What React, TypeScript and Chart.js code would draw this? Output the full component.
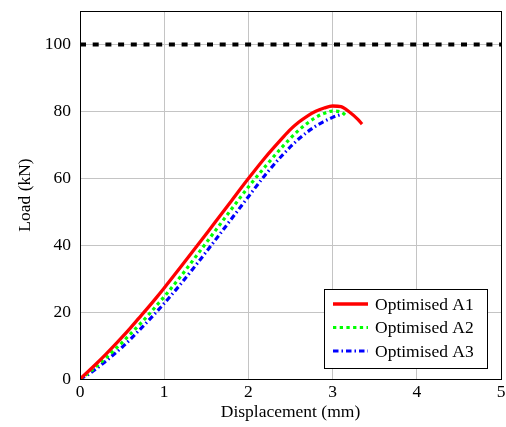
import React, { useEffect, useRef } from "react";
import { Chart, registerables } from "chart.js";

Chart.register(...registerables);

const FONT = "'Liberation Serif', 'Times New Roman', serif";

const seriesLabels = ["Optimised A1", "Optimised A2", "Optimised A3"];

const a1X = [0, 0.1, 0.2, 0.3, 0.4, 0.5, 0.6, 0.7, 0.8, 0.9, 1.0, 1.2, 1.4, 1.6, 1.8, 2.0, 2.2, 2.4, 2.5, 2.6, 2.7, 2.8, 2.9, 3.0, 3.1, 3.2, 3.3, 3.35];
const a1Y = [0, 2.3, 4.7, 7.2, 9.8, 12.5, 15.3, 18.2, 21.1, 24.1, 27.2, 33.6, 40.1, 46.7, 53.3, 59.9, 66.2, 71.9, 74.6, 76.8, 78.6, 80.0, 81.0, 81.6, 81.4, 79.8, 77.6, 76.2];

const a2X = [0, 0.1, 0.2, 0.3, 0.4, 0.5, 0.6, 0.7, 0.8, 0.9, 1.0, 1.2, 1.4, 1.6, 1.8, 2.0, 2.2, 2.4, 2.6, 2.8, 2.9, 3.0, 3.1, 3.17];
const a2Y = [0, 1.8, 3.9, 6.1, 8.5, 10.9, 13.5, 16.1, 18.8, 21.7, 24.6, 30.8, 37.4, 44.1, 50.8, 57.4, 63.5, 69.3, 74.4, 78.2, 79.4, 80.1, 79.8, 78.5];

const a3X = [0, 0.1, 0.2, 0.3, 0.4, 0.5, 0.6, 0.7, 0.8, 0.9, 1.0, 1.2, 1.4, 1.6, 1.8, 2.0, 2.2, 2.4, 2.6, 2.8, 2.9, 3.0, 3.1];
const a3Y = [0, 1.4, 3.2, 5.2, 7.3, 9.5, 11.9, 14.5, 17.1, 19.8, 22.6, 28.5, 34.8, 41.3, 47.9, 54.5, 61.0, 66.8, 71.8, 75.6, 77.0, 78.2, 79.1];

const limitX = [0, 5];
const limitY = [100, 100];

const xTicks = [0, 1, 2, 3, 4, 5];
const yTicks = [0, 20, 40, 60, 80, 100];

const colors = ["#ff0000", "#00ff00", "#0000ff"];
const dashes = [[], [3.3, 3.4], [5.5, 3, 1.5, 3]];
const widths = [3.3, 3.2, 3.2];

const zip = (xs: number[], ys: number[]) => xs.map((x, i) => ({ x, y: ys[i] }));

const boxAndLegend = {
  id: "boxAndLegend",
  afterDatasetsDraw(chart: any) {
    const { ctx, chartArea } = chart;
    ctx.save();
    ctx.strokeStyle = "#000";
    ctx.lineWidth = 1;
    ctx.setLineDash([]);
    ctx.strokeRect(
      Math.round(chartArea.left) + 0.5,
      Math.round(chartArea.top) + 0.5,
      Math.round(chartArea.right - chartArea.left),
      Math.round(chartArea.bottom - chartArea.top)
    );
    const bx = 324.5, by = 289.5, bw = 163, bh = 79;
    ctx.fillStyle = "#fff";
    ctx.fillRect(bx, by, bw, bh);
    ctx.strokeRect(bx, by, bw, bh);
    const rows = [304, 327.5, 351];
    ctx.font = `17.5px ${FONT}`;
    ctx.textBaseline = "middle";
    ctx.textAlign = "left";
    seriesLabels.forEach((lab, i) => {
      ctx.beginPath();
      ctx.strokeStyle = colors[i];
      ctx.lineWidth = widths[i];
      ctx.setLineDash(dashes[i]);
      ctx.moveTo(333, rows[i]);
      ctx.lineTo(368, rows[i]);
      ctx.stroke();
      ctx.setLineDash([]);
      ctx.fillStyle = "#000";
      ctx.fillText(lab, 375, rows[i] + 1);
    });
    ctx.restore();
  },
};

export default function App() {
  const ref = useRef<HTMLCanvasElement | null>(null);
  useEffect(() => {
    if (!ref.current) return;
    const chart = new Chart(ref.current, {
      type: "line",
      data: {
        datasets: [
          {
            label: "limit",
            data: zip(limitX, limitY),
            borderColor: "#000",
            borderWidth: 4,
            borderDash: [6, 6.7],
            pointRadius: 0,
            tension: 0,
          },
          ...seriesLabels.map((lab, i) => ({
            label: lab,
            data: zip([a1X, a2X, a3X][i], [a1Y, a2Y, a3Y][i]),
            borderColor: colors[i],
            borderWidth: widths[i],
            borderDash: dashes[i],
            pointRadius: 0,
            tension: 0.3,
            cubicInterpolationMode: "monotone" as const,
          })),
        ],
      },
      options: {
        animation: false,
        responsive: false,
        layout: { padding: { top: 11, right: 5, left: 0, bottom: 0 } },
        plugins: { legend: { display: false }, tooltip: { enabled: false } },
        scales: {
          x: {
            type: "linear",
            min: 0,
            max: 5,
            afterBuildTicks: (s: any) => {
              s.ticks = xTicks.map((v) => ({ value: v }));
            },
            afterFit: (s: any) => {
              s.height = 48;
              s.paddingLeft = 0;
              s.paddingRight = 0;
            },
            grid: { color: "#c4c4c4", lineWidth: 1, drawTicks: false },
            border: { display: false },
            ticks: { color: "#000", font: { family: FONT, size: 17.5 }, padding: 3, maxRotation: 0 },
            title: {
              display: true,
              text: "Displacement (mm)",
              color: "#000",
              font: { family: FONT, size: 17.5 },
              padding: { top: 0, bottom: 4.5 },
            },
          },
          y: {
            type: "linear",
            min: 0,
            max: 110,
            afterBuildTicks: (s: any) => {
              s.ticks = yTicks.map((v) => ({ value: v }));
            },
            afterFit: (s: any) => {
              s.width = 80;
              s.paddingTop = 0;
              s.paddingBottom = 0;
            },
            grid: { color: "#c4c4c4", lineWidth: 1, drawTicks: false },
            border: { display: false },
            ticks: { color: "#000", font: { family: FONT, size: 17.5 }, padding: 9 },
            title: {
              display: true,
              text: "Load (kN)",
              color: "#000",
              font: { family: FONT, size: 17.5 },
              padding: { top: 14.5, bottom: 0 },
            },
          },
        },
      },
      plugins: [boxAndLegend],
    });
    return () => chart.destroy();
  }, []);
  return (
    <div style={{ position: "absolute", left: 0, top: 0, width: 506, height: 427, background: "#fff" }}>
      <canvas ref={ref} width={506} height={427} style={{ display: "block" }} />
    </div>
  );
}
